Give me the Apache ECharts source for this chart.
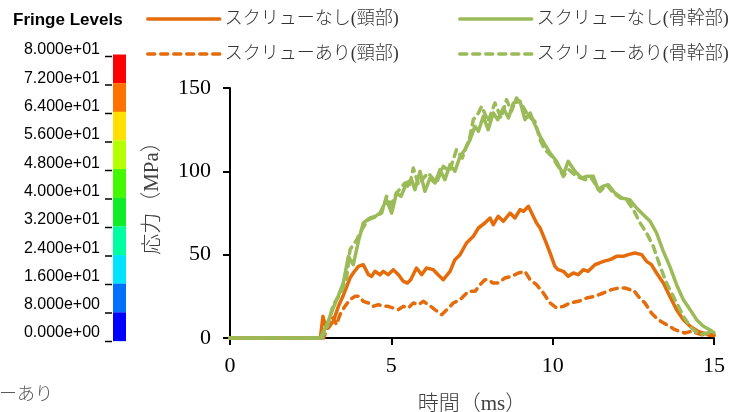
<!DOCTYPE html>
<html>
<head>
<meta charset="utf-8">
<script src="https://cdn.jsdelivr.net/npm/echarts@6/dist/echarts.min.js"></script>
<style>
html,body{margin:0;padding:0;background:#fff;}
#chart{width:733px;height:412px;}
</style>
</head>
<body>
<div id="chart"></div>
<script>
// ---- data ----
const xTicks = [0, 5, 10, 15];
const yTicks = [0, 50, 100, 150];
const xTitle = '時間（ms）';
const yTitle = '応力（MPa）';

const nameNeckNo = 'スクリューなし(頸部)';
const nameShaftNo = 'スクリューなし(骨幹部)';
const nameNeckYes = 'スクリューあり(頸部)';
const nameShaftYes = 'スクリューあり(骨幹部)';

const timeNeckNo = [0, 2.8, 2.88, 2.95, 3.05, 3.2, 3.36, 3.5, 3.62, 3.72, 3.82, 3.98, 4.13, 4.29, 4.39, 4.49, 4.65, 4.75, 4.9, 5.06, 5.22, 5.37, 5.5, 5.6, 5.78, 5.94, 6.09, 6.3, 6.45, 6.61, 6.82, 6.97, 7.13, 7.33, 7.54, 7.7, 7.9, 8.06, 8.16, 8.31, 8.47, 8.68, 8.83, 8.99, 9.1, 9.25, 9.35, 9.5, 9.61, 9.76, 9.92, 10.07, 10.17, 10.33, 10.48, 10.64, 10.79, 10.95, 11.1, 11.31, 11.45, 11.57, 11.78, 11.98, 12.19, 12.34, 12.55, 12.76, 12.91, 13.06, 13.22, 13.43, 13.63, 13.84, 14.05, 14.26, 14.5, 14.77, 15.0];
const stressNeckNo = [0, 0, 13, 8, 6, 10, 19, 25, 31, 36, 39, 43, 44, 38, 37, 40, 38, 40, 38, 41, 38, 34, 33, 35, 42, 38, 42, 41, 38, 35, 40, 47, 50, 57, 61, 66, 69, 72, 68, 73, 70, 75, 72, 77, 76, 79, 75, 69, 66, 59, 51, 43, 41, 40, 37, 39, 38, 41, 40, 44, 45, 46, 47, 49, 49, 50, 51, 50, 46, 44, 39, 33, 25, 17, 11, 7, 4, 2.4, 1.8];

const timeNeckYes = [0, 2.9, 3.0, 3.1, 3.2, 3.3, 3.41, 3.56, 3.72, 3.87, 4.0, 4.13, 4.29, 4.44, 4.6, 4.75, 4.9, 5.06, 5.22, 5.37, 5.52, 5.68, 5.84, 5.99, 6.15, 6.35, 6.56, 6.72, 6.92, 7.13, 7.39, 7.6, 7.75, 7.9, 8.0, 8.15, 8.31, 8.52, 8.73, 8.94, 9.14, 9.3, 9.5, 9.71, 9.92, 10.12, 10.33, 10.54, 10.8, 11.05, 11.3, 11.57, 11.82, 12.05, 12.24, 12.4, 12.5, 12.65, 12.86, 13.06, 13.27, 13.53, 13.79, 14.1, 14.3, 14.61, 15.0];
const stressNeckYes = [0, 0, 5, 12, 12, 8, 14, 19, 23, 25, 25, 22, 21, 19, 20, 19, 19, 18, 17, 19, 18, 21, 20, 22, 20, 17, 14, 17, 21, 23, 28, 28, 32, 35, 35, 33, 33, 36, 37, 39, 40, 35, 32, 27, 21, 18, 19, 21, 22, 24, 25, 27, 29, 30, 30, 29, 29, 25, 21, 15, 11, 8, 5, 3, 4, 2, 1.5];

const timeShaftNo = [0, 2.8, 3.0, 3.2, 3.35, 3.51, 3.67, 3.82, 3.98, 4.13, 4.34, 4.5, 4.65, 4.85, 5.01, 5.16, 5.3, 5.47, 5.63, 5.73, 5.89, 6.04, 6.2, 6.35, 6.51, 6.66, 6.82, 6.97, 7.13, 7.28, 7.44, 7.59, 7.7, 7.85, 8.0, 8.16, 8.3, 8.47, 8.63, 8.78, 8.99, 9.14, 9.3, 9.45, 9.61, 9.76, 9.92, 10.12, 10.33, 10.48, 10.69, 10.9, 11.05, 11.26, 11.41, 11.55, 11.72, 11.93, 12.14, 12.39, 12.6, 12.81, 13.02, 13.22, 13.43, 13.63, 13.84, 14.05, 14.26, 14.46, 14.67, 14.88, 15.0];
const stressShaftNo = [0, 0, 8, 18, 25, 33, 49, 44, 58, 69, 72, 73, 75, 83, 75, 87, 85, 93, 95, 89, 100, 88, 96, 93, 101, 95, 104, 100, 109, 113, 119, 127, 124, 133, 125, 135, 131, 138, 132, 141, 142, 131, 135, 128, 121, 116, 111, 106, 98, 106, 100, 96, 97, 97, 89, 91, 92, 87, 84, 83, 78, 74, 70, 63, 52, 43, 32, 23, 17, 11, 7, 4.8, 3.2];

const timeShaftYes = [0, 2.85, 3.0, 3.2, 3.4, 3.6, 3.72, 3.93, 4.08, 4.29, 4.54, 4.7, 4.85, 5.0, 5.16, 5.42, 5.55, 5.68, 5.84, 6.0, 6.14, 6.4, 6.61, 6.8, 7.02, 7.2, 7.44, 7.54, 7.7, 7.8, 8.0, 8.21, 8.4, 8.57, 8.72, 8.88, 9.05, 9.25, 9.45, 9.61, 9.76, 9.97, 10.17, 10.33, 10.5, 10.74, 11.0, 11.2, 11.47, 11.67, 11.88, 12.1, 12.29, 12.5, 12.71, 12.91, 13.12, 13.33, 13.53, 13.79, 14.05, 14.3, 14.56, 14.8, 15.0];
const stressShaftYes = [0, 0, 6, 20, 26, 34, 53, 59, 65, 71, 73, 75, 85, 80, 87, 93, 90, 102, 92, 96, 99, 93, 103, 100, 113, 108, 121, 131, 135, 139, 130, 141, 132, 143, 136, 144, 140, 133, 130, 119, 113, 109, 103, 97, 101, 97, 95, 96, 88, 92, 87, 84, 83, 77, 69, 63, 55, 43, 33, 23, 13, 6, 2, 3, 3.5];

// overlaid fringe-level colour bar (part of the picture)
const fringeTitle = 'Fringe Levels';
const fringeLabels = ['8.000e+01', '7.200e+01', '6.400e+01', '5.600e+01', '4.800e+01', '4.000e+01', '3.200e+01', '2.400e+01', '1.600e+01', '8.000e+00', '0.000e+00'];
const fringeColors = ['#FF0000', '#FF7200', '#FFE000', '#B4FF00', '#44F800', '#10EC28', '#00FFA0', '#00E4FF', '#0070FF', '#0000FF'];
const cutText = 'ーあり';

// ---- build ----
const zip = (t, v) => t.map((x, i) => [x, v[i]]);
const ORANGE = '#E46C0A';
const GREEN = '#9BBB59';
const SERIF = "'Liberation Serif', 'Times New Roman', 'Noto Sans CJK JP', serif";
const SANS = "'Liberation Sans', Arial, sans-serif";

function lineSeries(name, t, v, color, dashed) {
  return {
    name: name, type: 'line', data: zip(t, v), showSymbol: false, symbol: 'none',
    smooth: false, clip: false,
    lineStyle: { color: color, width: 3.5, type: dashed ? [7, 6] : 'solid', cap: 'round', join: 'round' },
    itemStyle: { color: color }
  };
}

const graphic = [];
graphic.push({ type: 'text', left: 13, top: 12, style: { text: fringeTitle, font: 'bold 17px ' + SANS, fill: '#000' } });
fringeLabels.forEach((lab, i) => {
  graphic.push({ type: 'text', x: 100, y: 50 + 28.3 * i, style: { text: lab, font: '16px ' + SANS, fill: '#000', align: 'right', verticalAlign: 'middle' } });
  graphic.push({ type: 'line', shape: { x1: 105, y1: 56.5 + 28.5 * i, x2: 112, y2: 56.5 + 28.5 * i }, style: { stroke: '#000', lineWidth: 1.5 } });
});
fringeColors.forEach((c, i) => {
  graphic.push({ type: 'rect', shape: { x: 113, y: 54.5 + 28.65 * i, width: 13, height: 28.8 }, style: { fill: c } });
});
graphic.push({ type: 'text', x: -1, y: 395, style: { text: cutText, font: '300 18px ' + SERIF, fill: '#595959', verticalAlign: 'middle' } });
// y axis title (rotated)
graphic.push({ type: 'text', x: 152, y: 193, rotation: Math.PI / 2,
  style: { text: yTitle, font: '300 21px ' + SERIF, fill: '#404040', align: 'center', verticalAlign: 'middle' } });

function legendAt(name, left, top) {
  return {
    data: [name], left: left, top: top, padding: 0, itemWidth: 72, itemHeight: 14,
    itemStyle: { opacity: 0 },
    lineStyle: { width: 3.5 },
    textStyle: { fontFamily: SERIF, fontSize: 18, fontWeight: 300, color: '#333' }, selectedMode: false
  };
}

const option = {
  animation: false,
  backgroundColor: '#fff',
  grid: { left: 230, right: 19, top: 88, bottom: 74, containLabel: false, outerBoundsMode: 'none' },
  legend: [
    legendAt(nameNeckNo, 146, 10),
    legendAt(nameShaftNo, 458, 10),
    legendAt(nameNeckYes, 146, 45),
    legendAt(nameShaftYes, 458, 45)
  ],
  xAxis: {
    type: 'value', min: xTicks[0], max: xTicks[xTicks.length - 1], interval: 5,
    name: xTitle, nameLocation: 'middle', nameGap: 56,
    nameTextStyle: { fontFamily: SERIF, fontSize: 21, fontWeight: 300, color: '#404040' },
    axisLine: { lineStyle: { color: '#000', width: 2 } },
    axisTick: { show: true, length: 7, inside: false, lineStyle: { color: '#000', width: 2 } },
    axisLabel: { fontFamily: SERIF, fontSize: 22, color: '#000', margin: 17 },
    splitLine: { show: false }
  },
  yAxis: {
    type: 'value', min: yTicks[0], max: yTicks[yTicks.length - 1], interval: 50,
    axisLine: { show: true, lineStyle: { color: '#000', width: 2 } },
    axisTick: { show: true, length: 7, inside: false, lineStyle: { color: '#000', width: 2 } },
    axisLabel: { fontFamily: SERIF, fontSize: 22, color: '#000', margin: 19 },
    splitLine: { show: false }
  },
  graphic: graphic,
  series: [
    lineSeries(nameNeckNo, timeNeckNo, stressNeckNo, ORANGE, false),
    lineSeries(nameNeckYes, timeNeckYes, stressNeckYes, ORANGE, true),
    lineSeries(nameShaftNo, timeShaftNo, stressShaftNo, GREEN, false),
    lineSeries(nameShaftYes, timeShaftYes, stressShaftYes, GREEN, true)
  ]
};

const chart = echarts.init(document.getElementById('chart'), null, { renderer: 'canvas' });
chart.setOption(option);
</script>
</body>
</html>
